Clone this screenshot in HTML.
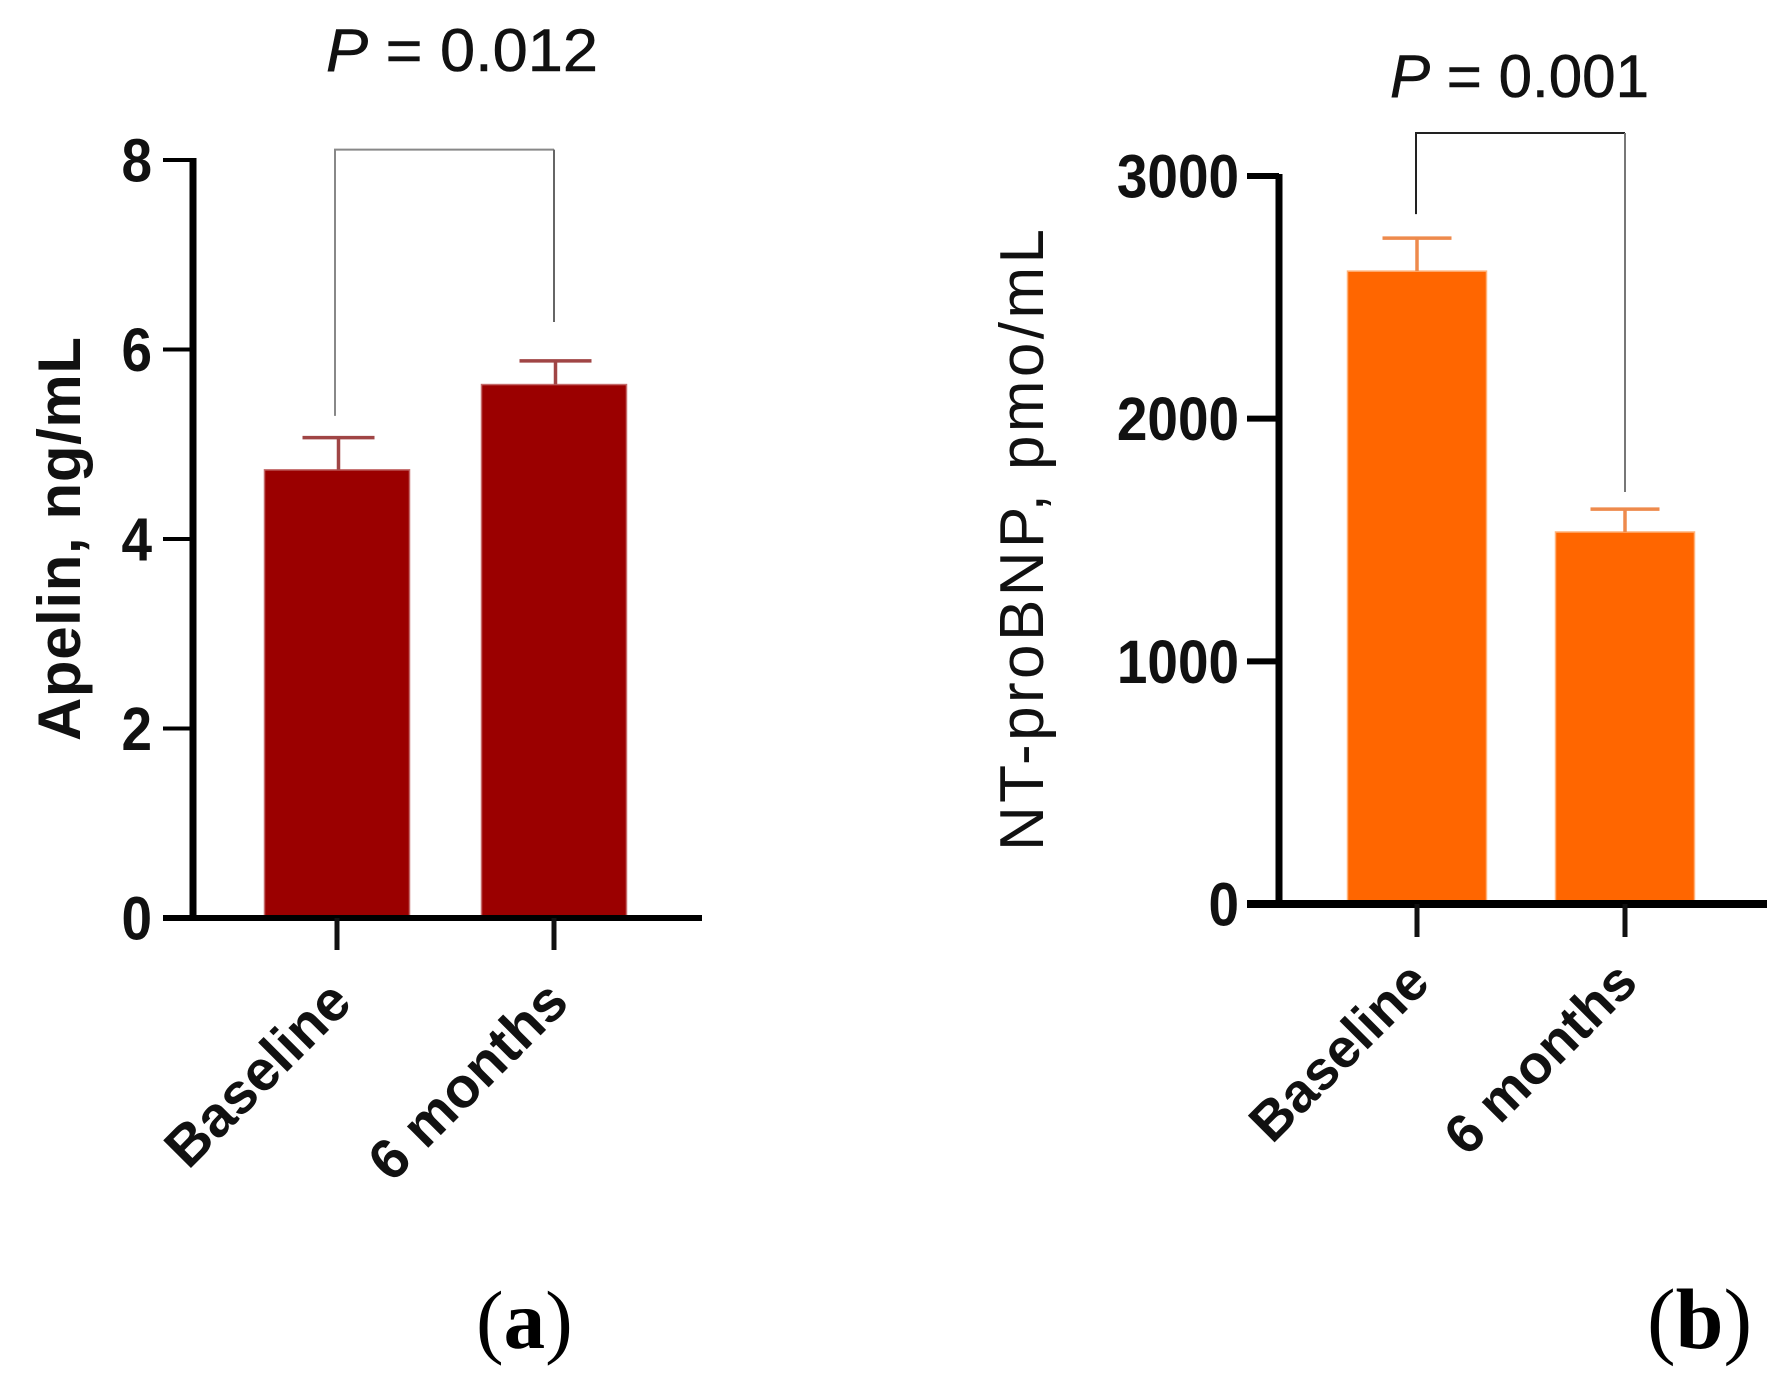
<!DOCTYPE html>
<html lang="en">
<head>
<meta charset="utf-8">
<title>Apelin and NT-proBNP at baseline and 6 months</title>
<style>
html,body{margin:0;padding:0;background:#fff;width:1792px;height:1387px;overflow:hidden}
svg{display:block}
text{font-family:"Liberation Sans",Arial,sans-serif;fill:#111}
.tick{font-weight:700;font-size:61px;text-anchor:end}
.cat{font-weight:700;text-anchor:end}
.pval{stroke:#111;stroke-width:0.6}
.serif{font-family:"Liberation Serif",serif;fill:#000}
</style>
</head>
<body>
<svg id="fig" xmlns="http://www.w3.org/2000/svg" width="1792" height="1387" viewBox="0 0 1792 1387">
  <rect x="0" y="0" width="1792" height="1387" fill="#fff"/>
  <g id="panel-a"></g>
  <g id="panel-b"></g>
  <text class="pval" x="326" y="71" font-size="60" textLength="272" lengthAdjust="spacingAndGlyphs"><tspan font-style="italic">P</tspan> = 0.012</text>
  <text class="pval" x="1390" y="97" font-size="60" textLength="259" lengthAdjust="spacingAndGlyphs"><tspan font-style="italic">P</tspan> = 0.001</text>
  <text transform="translate(80,741) rotate(-90)" font-size="60" font-weight="700" textLength="404" lengthAdjust="spacing">Apelin, ng/mL</text>
  <text transform="translate(1043,851) rotate(-90)" font-size="62" textLength="622" lengthAdjust="spacing">NT-proBNP, pmo/mL</text>
  <text class="serif" x="476" y="1348" font-size="83">(<tspan font-weight="700">a</tspan>)</text>
  <text class="serif" x="1647" y="1348" font-size="86">(<tspan font-weight="700">b</tspan>)</text>
</svg>
<script>
// Shared categories
const categories = ['Baseline', '6 months'];

// Panel (a) Apelin, ng/mL
const apelinTicks = [0, 2, 4, 6, 8];
const apelinMeans = [4.73, 5.63];
const apelinUpper = [5.07, 5.88];
const apelinBracketFeet = [5.30, 6.29];
const apelinBracketTop = 8.11;

// Panel (b) NT-proBNP, pmo/mL
const bnpTicks = [0, 1000, 2000, 3000];
const bnpMeans = [2608, 1533];
const bnpUpper = [2744, 1627];
const bnpBracketFeet = [2843, 1698];
const bnpBracketTop = 3177;

const NS = 'http://www.w3.org/2000/svg';
function mk(parent, tag, props, text) {
  const el = document.createElementNS(NS, tag);
  for (const k in props) el.setAttribute(k, props[k]);
  if (text !== undefined) el.textContent = text;
  parent.appendChild(el);
  return el;
}

function drawPanel(cfg) {
  const g = document.getElementById(cfg.id);
  const maxTick = cfg.ticks[cfg.ticks.length - 1];
  const y = v => cfg.y0 - (v / maxTick) * (cfg.y0 - cfg.yTop);
  const x = i => cfg.xFirst + i * cfg.xStep;

  // bars
  cfg.means.forEach((v, i) => {
    const bar = mk(g, 'rect', {
      x: x(i) - cfg.barW / 2, y: y(v), width: cfg.barW, height: cfg.y0 - y(v),
      fill: cfg.color, stroke: cfg.halo, 'stroke-width': 1.5
    });
    
    

    const stem = mk(g, 'line', {
      x1: x(i) + cfg.errDx, x2: x(i) + cfg.errDx, y1: y(v), y2: y(cfg.upper[i]),
      stroke: cfg.errColor, 'stroke-width': 3.5
    });
    
    

    const cap = mk(g, 'line', {
      x1: x(i) + cfg.errDx - cfg.capW / 2, x2: x(i) + cfg.errDx + cfg.capW / 2, y1: y(cfg.upper[i]), y2: y(cfg.upper[i]),
      stroke: cfg.errColor, 'stroke-width': 3.5
    });
    
    
  });

  // significance bracket
  const bracketLeft = mk(g, 'path', {
    d: 'M' + cfg.bx(0) + ' ' + y(cfg.feet[0]) + 'V' + y(cfg.top) + 'H' + cfg.bx(1),
    fill: 'none', stroke: cfg.bracketColor, 'stroke-width': 2
  });
  
  

  const bracketRight = mk(g, 'path', {
    d: 'M' + cfg.bx(1) + ' ' + y(cfg.top) + 'V' + y(cfg.feet[1]),
    fill: 'none', stroke: cfg.bracketColor2, 'stroke-width': 2
  });
  
  

  // y axis
  const yAxis = mk(g, 'rect', {
    x: cfg.axisX - cfg.axisW / 2, y: y(maxTick) - 2, width: cfg.axisW, height: cfg.y0 - y(maxTick) + 4, fill: '#000'
  });
  
  

  cfg.ticks.forEach(t => {
    const tick = mk(g, 'line', {
      x1: cfg.tickX, x2: cfg.axisX, y1: y(t), y2: y(t), stroke: '#000', 'stroke-width': cfg.tickH
    });
    
    

    const label = mk(g, 'text', {
      class: 'tick',
      transform: 'translate(' + cfg.labelX + ',' + (y(t) + 21.5) + ') scale(0.9,1)'
    }, String(t));
    
    
  });

  // x axis
  const xAxis = mk(g, 'line', {
    x1: cfg.tickX, x2: cfg.xEnd, y1: cfg.y0, y2: cfg.y0, stroke: '#000', 'stroke-width': cfg.xAxisH
  });
  
  

  categories.forEach((c, i) => {
    const tick = mk(g, 'line', {
      x1: x(i), x2: x(i), y1: cfg.y0, y2: cfg.y0 + cfg.xTickLen, stroke: '#111', 'stroke-width': 5
    });
    
    

    const lx = x(i) + cfg.catDx;
    const ly = cfg.y0 + cfg.catDy;
    const label = mk(g, 'text', {
      class: 'cat', 'font-size': cfg.catSize,
      transform: 'translate(' + lx + ',' + ly + ') rotate(-45)'
    }, c);
    
    
  });
}

drawPanel({
  id: 'panel-a', key: 'apelin',
  ticks: apelinTicks, means: apelinMeans, upper: apelinUpper,
  feet: apelinBracketFeet, top: apelinBracketTop,
  y0: 918, yTop: 160, xFirst: 337, xStep: 217, barW: 145, capW: 72, errDx: 1.5,
  bx: i => 335 + i * 219,
  color: '#9b0000', halo: '#c46a6a', errColor: '#a04545', bracketColor: '#888', bracketColor2: '#666',
  axisX: 193, axisW: 7, tickX: 163, tickH: 4, labelX: 152, xEnd: 702, xAxisH: 6, xTickLen: 32,
  catDx: 17, catDy: 87, catSize: 57
});

drawPanel({
  id: 'panel-b', key: 'bnp',
  ticks: bnpTicks, means: bnpMeans, upper: bnpUpper,
  feet: bnpBracketFeet, top: bnpBracketTop,
  y0: 904, yTop: 176, xFirst: 1417, xStep: 208, barW: 139, capW: 69, errDx: 0,
  bx: i => 1416 + i * 209,
  color: '#ff6600', halo: '#ffb27a', errColor: '#ee8a4c', bracketColor: '#222', bracketColor2: '#777',
  axisX: 1279, axisW: 7, tickX: 1247, tickH: 6, labelX: 1239, xEnd: 1767, xAxisH: 8, xTickLen: 33,
  catDx: 15, catDy: 81, catSize: 55
});
</script>
</body>
</html>
